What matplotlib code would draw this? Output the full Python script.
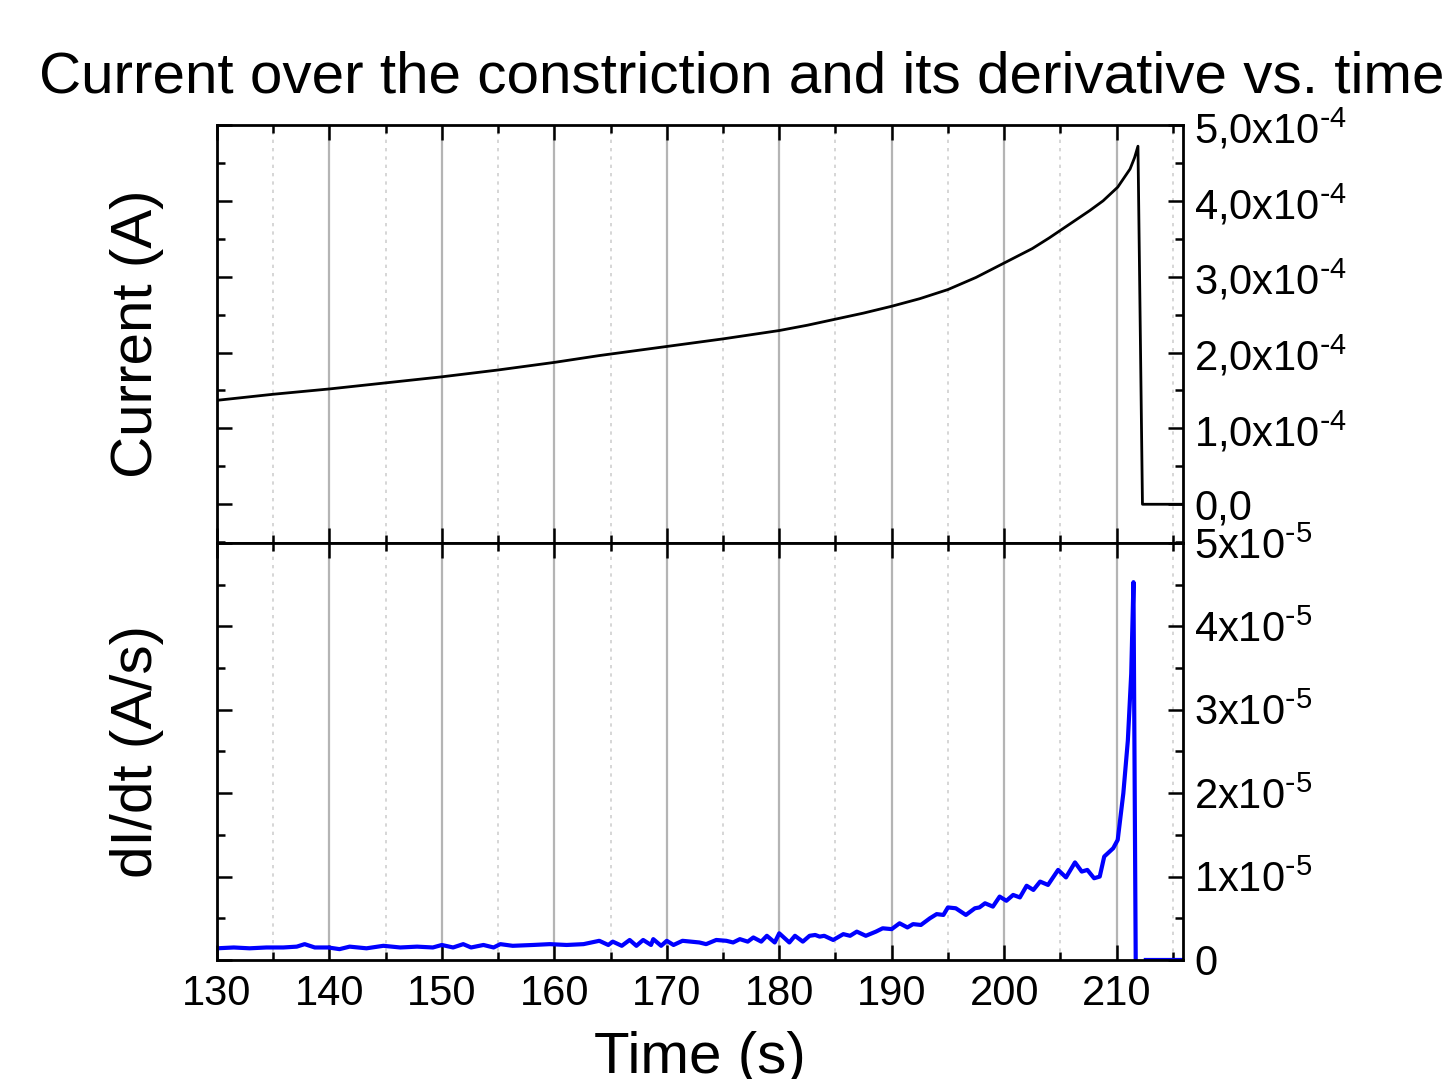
import numpy as np
import matplotlib
matplotlib.use('Agg')
from matplotlib import pyplot as plt
from matplotlib.ticker import MultipleLocator

plt.rcParams['font.family'] = ['Liberation Sans', 'DejaVu Sans']
plt.rcParams['mathtext.default'] = 'regular'
plt.rcParams['axes.unicode_minus'] = False

# current over the constriction (A)
t_cur = [130.0, 135.0, 140.0, 145.0, 150.0, 155.0, 160.0, 164.0, 170.0, 175.0,
         180.0, 182.5, 185.0, 187.5, 190.0, 192.5, 195.0, 197.5, 200.0, 202.5,
         204.0, 205.5, 207.6, 208.8, 210.1, 211.2, 211.6, 211.9, 212.3, 216.0]
current = [1.37e-4, 1.45e-4, 1.52e-4, 1.60e-4, 1.68e-4, 1.77e-4, 1.87e-4, 1.96e-4, 2.08e-4, 2.18e-4,
           2.29e-4, 2.36e-4, 2.44e-4, 2.52e-4, 2.61e-4, 2.71e-4, 2.83e-4, 2.99e-4, 3.18e-4, 3.37e-4,
           3.51e-4, 3.66e-4, 3.87e-4, 4.00e-4, 4.18e-4, 4.42e-4, 4.57e-4, 4.72e-4, 0.0, 0.0]

# derivative dI/dt (A/s), read in units of 1e-5
t_der = [130.0, 131.5, 132.9, 134.4, 135.9, 137.1, 137.8, 138.7, 139.9, 140.9,
         141.8, 143.3, 144.8, 146.3, 147.8, 149.2, 150.0, 151.0, 151.9, 152.6,
         153.7, 154.6, 155.2, 156.3, 158.1, 159.6, 161.1, 162.6, 164.0, 164.8,
         165.2, 166.0, 166.7, 167.3, 167.9, 168.6, 168.8, 169.5, 170.0, 170.6,
         171.4, 172.9, 173.5, 174.4, 175.3, 175.9, 176.5, 177.2, 177.7, 178.4,
         178.9, 179.6, 180.0, 180.9, 181.4, 182.1, 182.7, 183.2, 183.6, 184.0,
         184.8, 185.7, 186.3, 186.9, 187.7, 188.6, 189.2, 190.0, 190.7, 191.4,
         191.9, 192.6, 193.4, 194.0, 194.6, 195.0, 195.7, 196.6, 197.4, 197.8,
         198.3, 199.0, 199.6, 200.2, 200.8, 201.4, 202.0, 202.6, 203.2, 203.9,
         204.8, 205.5, 206.3, 206.9, 207.4, 208.0, 208.5, 208.9, 209.7, 210.1,
         210.6, 211.0, 211.3, 211.5, 211.7, np.nan, 212.6, 216.0]
didt_e5 = [0.14, 0.15, 0.14, 0.15, 0.15, 0.16, 0.19, 0.15, 0.15, 0.13,
           0.16, 0.14, 0.17, 0.15, 0.16, 0.15, 0.18, 0.15, 0.19, 0.15,
           0.18, 0.15, 0.19, 0.17, 0.18, 0.19, 0.18, 0.19, 0.23, 0.18,
           0.22, 0.17, 0.24, 0.17, 0.24, 0.18, 0.25, 0.17, 0.23, 0.18,
           0.23, 0.21, 0.19, 0.24, 0.23, 0.21, 0.25, 0.22, 0.27, 0.22,
           0.29, 0.21, 0.32, 0.21, 0.29, 0.22, 0.29, 0.30, 0.28, 0.29,
           0.24, 0.31, 0.29, 0.34, 0.29, 0.34, 0.38, 0.37, 0.44, 0.39,
           0.43, 0.42, 0.50, 0.55, 0.54, 0.63, 0.62, 0.54, 0.62, 0.63,
           0.68, 0.64, 0.76, 0.71, 0.78, 0.75, 0.89, 0.84, 0.94, 0.90,
           1.08, 0.99, 1.17, 1.06, 1.08, 0.98, 1.00, 1.24, 1.34, 1.44,
           2.00, 2.63, 3.43, 4.53, 0.0, np.nan, 0.0, 0.0]
didt = np.array(didt_e5) * 1e-5

top_ticks = [0, 1e-4, 2e-4, 3e-4, 4e-4, 5e-4]
top_labels = ['0,0', r'1,0x10$^{\text{-}4}$', r'2,0x10$^{\text{-}4}$', r'3,0x10$^{\text{-}4}$',
              r'4,0x10$^{\text{-}4}$', r'5,0x10$^{\text{-}4}$']
bot_ticks = [0, 1e-5, 2e-5, 3e-5, 4e-5, 5e-5]
bot_labels = ['0', r'1x10$^{\text{-}5}$', r'2x10$^{\text{-}5}$', r'3x10$^{\text{-}5}$',
              r'4x10$^{\text{-}5}$', r'5x10$^{\text{-}5}$']
x_ticks = [130, 140, 150, 160, 170, 180, 190, 200, 210]

fig = plt.figure(figsize=(14.52, 10.79), dpi=100)
ax1 = fig.add_axes([0.1494, 0.4968, 0.6653, 0.3874])
ax2 = fig.add_axes([0.1494, 0.1103, 0.6653, 0.3865], sharex=ax1)

ax1.plot(t_cur, current, color='black', lw=2.0)
ax2.plot(t_der, didt, color='#0000ff', lw=3.0)

ax1.set_xlim(130, 215.9)
ax1.set_ylim(-0.51e-4, 5e-4)
ax2.set_ylim(0, 5e-5)

for ax in (ax1, ax2):
    ax.xaxis.set_major_locator(MultipleLocator(10))
    ax.xaxis.set_minor_locator(MultipleLocator(5))
    ax.grid(which='major', axis='x', color='#b4b4b4', lw=1.6)
    ax.grid(which='minor', axis='x', color='#d0d0d0', lw=1.2, ls=(0, (2, 3)))
    ax.tick_params(which='both', direction='in', top=True, bottom=True, left=True, right=True,
                   labelleft=False, labelright=True, labelsize=30, width=1.8, pad=8)
    ax.tick_params(which='major', length=11)
    ax.tick_params(which='minor', length=6)
    for s in ax.spines.values():
        s.set_linewidth(2.0)
    ax.set_axisbelow(True)

ax1.set_yticks(top_ticks)
ax1.set_yticklabels(top_labels)
ax1.yaxis.set_minor_locator(MultipleLocator(0.5e-4))
ax1.tick_params(labelbottom=False)

ax2.set_yticks(bot_ticks)
ax2.set_yticklabels(bot_labels)
ax2.yaxis.set_minor_locator(MultipleLocator(0.5e-5))
ax2.set_xticks(x_ticks)
ax2.tick_params(axis='x', labelsize=30, pad=10)

ax1.set_ylabel('Current (A)', fontsize=42, labelpad=38)
ax2.set_ylabel('dI/dt (A/s)', fontsize=42, labelpad=38)
ax2.set_xlabel('Time (s)', fontsize=42, labelpad=12)
fig.text(0.511, 0.928, 'Current over the constriction and its derivative vs. time',
         fontsize=42, ha='center', va='center')

fig.savefig('out.png', dpi=100)
